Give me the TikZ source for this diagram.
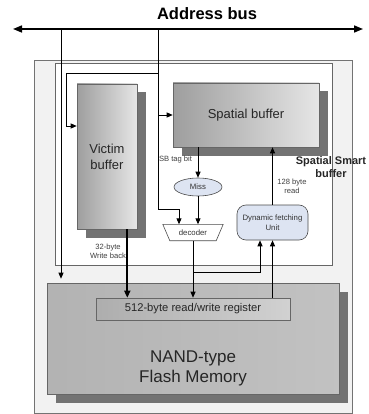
\documentclass[tikz,border=0pt]{standalone}
\usepackage{fontspec}
\setmainfont{Liberation Sans}
\usetikzlibrary{arrows.meta,shapes.geometric,shadows}
\definecolor{lblue}{RGB}{221,228,242}
\begin{document}
\begin{tikzpicture}[x=1pt,y=-1pt,
  box/.style={draw=black!60, line width=0.6pt, inner sep=0pt, align=center, text=black!85},
  shadowed/.style={drop shadow={shadow xshift=8.5pt, shadow yshift=-8.5pt, fill=black!55, opacity=1}},
  conn/.style={line width=0.9pt, -{Triangle[length=6pt,width=5pt]}},
  plain/.style={line width=0.9pt},
  lbl/.style={font=\fontsize{7.6}{9}\selectfont, text=black!75, align=center, inner sep=0pt},
]
\useasboundingbox[fill=white] (0,0) rectangle (368,414);
% containers
\node[draw=black!55, fill=black!5, minimum width=318pt, minimum height=353pt, inner sep=0pt] (outer) at (193,236.5) {};
\node[draw=black!60, fill=white, minimum width=277pt, minimum height=202pt, inner sep=0pt] (inner) at (193.5,164) {};
% title
\node[font=\bfseries\fontsize{16.5}{18}\selectfont, inner sep=0pt] (title) at (207,14) {Address bus};
% blocks
\node[box, shadowed, left color=black!38, right color=black!10, minimum width=60pt, minimum height=145pt,
      font=\fontsize{13}{16}\selectfont] (vb) at (107,156.5) {Victim\\buffer};
\node[box, shadowed, left color=black!38, right color=black!10, minimum width=146pt, minimum height=64pt,
      font=\fontsize{13}{16}\selectfont] (sb) at (246,115) {Spatial buffer};
\node[box, shadowed, left color=black!30, middle color=black!9, right color=black!24, minimum width=292pt, minimum height=111pt,
      font=\fontsize{17}{20}\selectfont] (nand) at (193,338.5) {};
\node[font=\fontsize{17}{20}\selectfont, align=center, text=black!85, inner sep=0pt] (nandtxt) at (193,368) {NAND-type\\Flash Memory};
\node[box, left color=black!32, right color=black!18, minimum width=194pt, minimum height=22pt,
      font=\fontsize{11.2}{13}\selectfont] (reg) at (193,309) {512-byte read/write register};
\node[ellipse, draw=black!70, line width=0.6pt, fill=lblue, minimum width=48pt, minimum height=18pt, inner sep=0pt,
      font=\fontsize{7.8}{9}\selectfont, text=black!80] (miss) at (198,187) {Miss};
\node[minimum width=60pt, minimum height=16pt, inner sep=0pt] (dec) at (193,232.5) {};
\draw[draw=black!70, line width=0.6pt, fill=white] (dec.north west) -- (dec.north east) -- ([xshift=-7pt]dec.south east) -- ([xshift=7pt]dec.south west) -- cycle;
\node[inner sep=0pt, font=\fontsize{7.8}{9}\selectfont, text=black!80] (dectxt) at (dec) {decoder};
\node[draw=black!70, line width=0.6pt, fill=lblue, rounded corners=9pt, minimum width=71pt, minimum height=35pt, inner sep=0pt,
      align=center, font=\fontsize{7.8}{10}\selectfont, text=black!80] (dfu) at (272.5,222.5) {Dynamic fetching\\Unit};
% labels
\node[lbl] (sbtag) at (175.5,160) {SB tag bit};
\node[lbl] (l128) at (292,186) {128 byte\\read};
\node[lbl] (l32) at (108,251.5) {32-byte\\Write back};
\node[font=\bfseries\fontsize{11}{12.5}\selectfont, align=center, inner sep=0pt, text=black!85] (ssb) at (331,167) {Spatial Smart\\buffer};
% bus
\coordinate (busL) at (13,29);
\coordinate (busR) at (363,29);
\draw[line width=1.6pt, {Triangle[length=9pt,width=7pt]}-{Triangle[length=9pt,width=7pt]}] (busL) -- (busR);
\coordinate (b1) at (61,29);
\coordinate (b2) at (158,29);
\coordinate (j1) at (158,73);
\coordinate (j2) at (158,115);
\coordinate (j3) at (158,209);
\coordinate (k) at (179,209);
\coordinate (c1) at (66,73);
\coordinate (c2) at (66,126);
\coordinate (m) at (193,272);
\coordinate (m2) at (260,272);
% connectors
\draw[conn, shorten >=4pt] (b1) -- (b1 |- nand.north);
\draw[conn] (b2) -- (j3) -- (k) -- (k |- dec.north);
\draw[conn] (j1) -- (c1) -- (c2) -- (c2 -| vb.west);
\draw[conn] (j2) -- (j2 -| sb.west);
\draw[conn] (sb.south -| miss) -- (miss.north);
\draw[conn] (miss.south) -- (miss.south |- dec.north);
\draw[conn] (dec.south) -- (dec.south |- reg.north);
\draw[conn] (m) -- (m2) -- (m2 |- dfu.south);
\draw[conn] (reg.north -| dfu.south) -- (dfu.south);
\draw[conn] (dfu.north) -- (dfu.north |- sb.south);
\draw[line width=1.8pt, -{Triangle[length=7pt,width=6pt]}] ([xshift=-10pt]vb.south east) -- ([xshift=-10pt]vb.south east |- reg.north);
\end{tikzpicture}
\end{document}
